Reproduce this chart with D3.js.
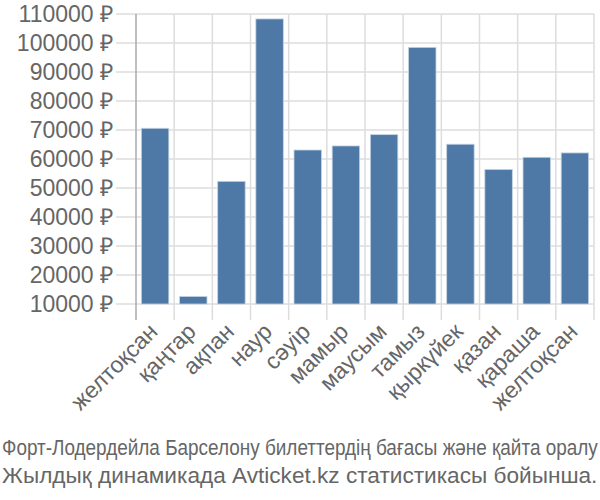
<!DOCTYPE html>
<html><head><meta charset="utf-8">
<script src="https://cdn.jsdelivr.net/npm/d3@7"></script>
<style>body{margin:0;background:#fff}svg{display:block}text{font-family:"Liberation Sans",Arial,sans-serif;fill:#666}</style>
</head><body><svg id="c" width="600" height="500"></svg>
<script>
const months = ["желтоқсан","қаңтар","ақпан","наур","сәуір","мамыр","маусым","тамыз","қыркүйек","қазан","қараша","желтоқсан"];
const prices = [70600,12600,52300,108300,63100,64500,68400,98500,65100,56400,60600,62100];
const yTicks = [10000,20000,30000,40000,50000,60000,70000,80000,90000,100000,110000];
const titleLines = ["Форт-Лодердейла Барселону билеттердің бағасы және қайта оралу","Жылдық динамикада Avticket.kz статистикасы бойынша."];

const svg = d3.select("#c");
const L=136,R=594,T=14,B=304;
const x = d3.scaleBand().domain(d3.range(months.length)).range([L,R]).paddingInner(0.28).paddingOuter(0.14);
const y = d3.scaleLinear().domain([10000,110000]).range([B,T]);

svg.append("g").selectAll("line").data(yTicks).join("line")
  .attr("x1",116).attr("x2",R).attr("y1",d=>y(d)).attr("y2",d=>y(d))
  .attr("stroke","#ddd").attr("stroke-width",1.5);
const edges = d3.range(months.length+1).map(i=>L+i*(R-L)/months.length);
svg.append("g").selectAll("line").data(edges.slice(1)).join("line")
  .attr("x1",d=>d).attr("x2",d=>d).attr("y1",T).attr("y2",320)
  .attr("stroke","#ddd").attr("stroke-width",1.5);
svg.append("line").attr("x1",L).attr("x2",L).attr("y1",T).attr("y2",320).attr("stroke","#aaa").attr("stroke-width",1.5);

svg.append("g").selectAll("text").data(yTicks).join("text")
  .attr("x",113).attr("y",d=>y(d)).attr("dy","0.36em").attr("text-anchor","end")
  .style("font-size","23px").text(d=>d+" ₽");

svg.append("g").selectAll("rect").data(prices).join("rect")
  .attr("x",(d,i)=>x(i)).attr("width",x.bandwidth())
  .attr("y",d=>y(d)).attr("height",d=>y(10000)-y(d))
  .attr("fill","#4e78a6").attr("stroke","#c6d4e4").attr("stroke-width",0.8);

svg.append("g").selectAll("text").data(months).join("text")
  .attr("transform",(d,i)=>`translate(${x(i)+x.bandwidth()/2+4},${333}) rotate(-45)`)
  .attr("text-anchor","end").style("font-size","23px").text(d=>d);

function fitLine(txt, yPos, size){
  const g = svg.append("g");
  const t = g.append("text").attr("x",0).attr("y",0).style("font-size",size+"px").text(txt);
  const w = t.node().getComputedTextLength();
  const sx = 596 / w;
  g.attr("transform",`translate(2,${yPos}) scale(${sx},1)`);
}
fitLine(titleLines[0], 455, 22);
fitLine(titleLines[1], 483, 22);
</script></body></html>
